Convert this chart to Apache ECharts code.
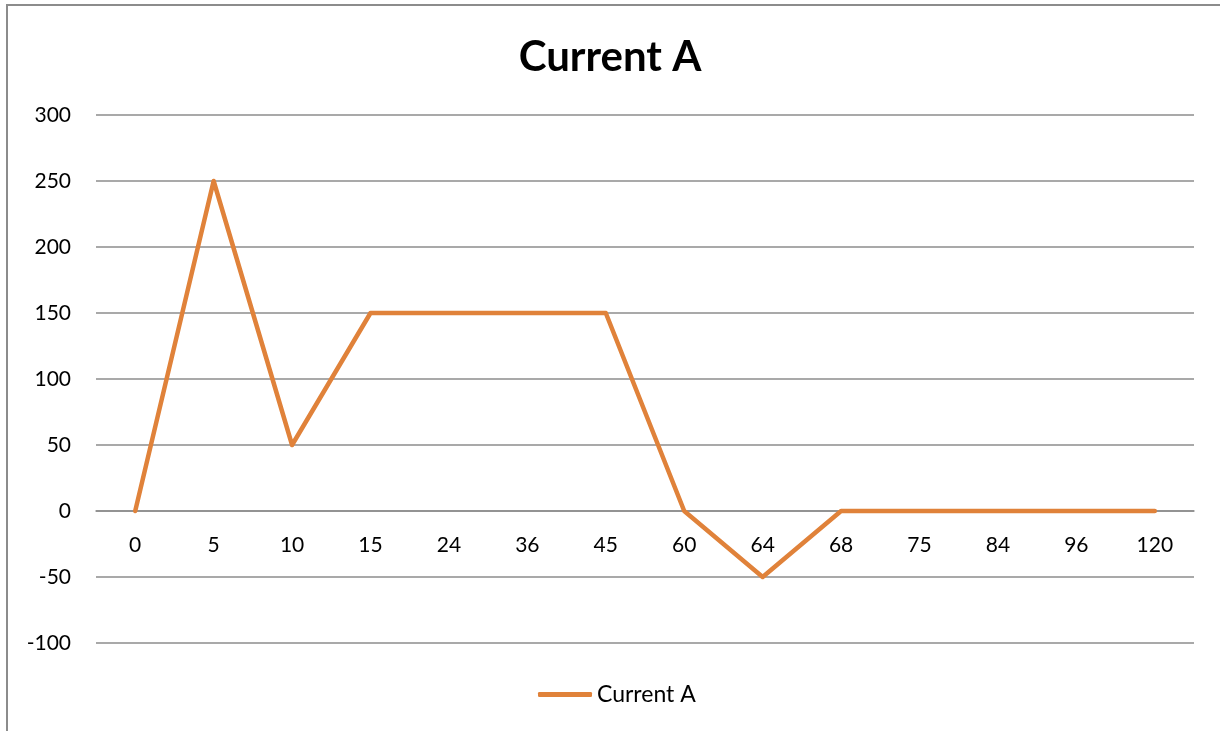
<!DOCTYPE html>
<html>
<head>
<meta charset="utf-8">
<script src="https://cdn.jsdelivr.net/npm/echarts@6/dist/echarts.min.js"></script>
<style>
  html, body { margin: 0; padding: 0; background: #fff; }
  #chart { width: 1220px; height: 731px; }
</style>
</head>
<body>
<div id="chart"></div>
<script>
// Time steps along the category axis
const timeLabels = ['0', '5', '10', '15', '24', '36', '45', '60', '64', '68', '75', '84', '96', '120'];
// Current readings (A) for each time step
const currentA = [0, 250, 50, 150, 150, 150, 150, 0, -50, 0, 0, 0, 0, 0];
const seriesName = 'Current A';

const chart = echarts.init(document.getElementById('chart'));
const font = 'Lato, "Open Sans", sans-serif';

chart.setOption({
  animation: false,
  backgroundColor: '#fff',
  graphic: [{
    type: 'rect',
    shape: { x: 7, y: 5, width: 1400, height: 900 },
    style: { fill: 'none', stroke: '#8c8c8c', lineWidth: 2 },
    silent: true
  }],
  title: {
    text: 'Current A',
    left: 'center',
    top: 31,
    textStyle: { fontFamily: font, fontSize: 42, fontWeight: 'bold', color: '#000' }
  },
  legend: {
    bottom: 20,
    left: 533,
    itemWidth: 54,
    itemHeight: 5,
    itemGap: 6,
    icon: 'roundRect',
    textStyle: { fontFamily: font, fontSize: 23, color: '#000' },
    data: [seriesName]
  },
  grid: { left: 96, right: 26, top: 115, bottom: 88, containLabel: false },
  xAxis: {
    type: 'category',
    data: timeLabels,
    boundaryGap: true,
    // lift the category axis up to the value 0 line (100 units of 400 above the bottom)
    offset: -132,
    axisLine: { onZero: false, lineStyle: { color: '#8c8c8c', width: 1.5 } },
    axisTick: { show: false },
    axisLabel: { fontFamily: font, fontSize: 21, color: '#000', margin: 24 }
  },
  yAxis: {
    type: 'value',
    min: -100,
    max: 300,
    interval: 50,
    axisLine: { show: false },
    axisTick: { show: false },
    axisLabel: { fontFamily: font, fontSize: 21, color: '#000', margin: 25 },
    splitLine: { lineStyle: { color: '#8c8c8c', width: 1.5 } }
  },
  series: [{
    name: seriesName,
    type: 'line',
    data: currentA,
    symbol: 'none',
    lineStyle: { color: '#E0823A', width: 4.5, cap: 'round', join: 'round' },
    itemStyle: { color: '#E0823A' }
  }]
});
</script>
</body>
</html>
